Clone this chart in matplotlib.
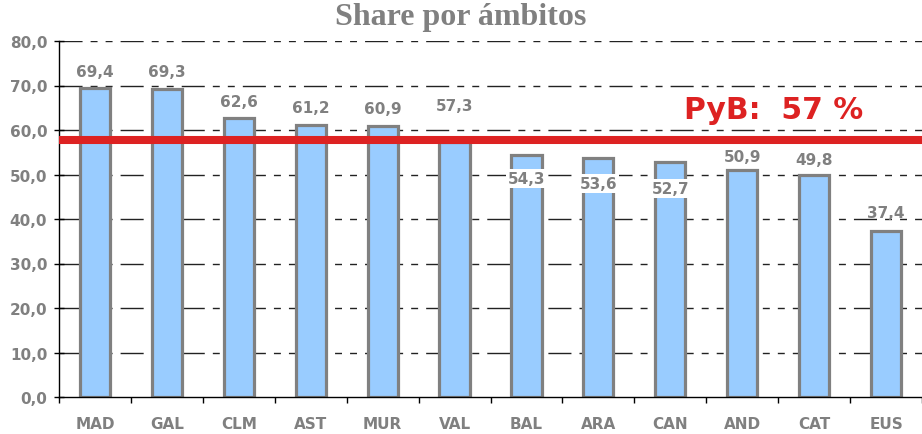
import matplotlib
matplotlib.use("Agg")
import matplotlib.pyplot as plt
import numpy as np

categories = ["MAD", "GAL", "CLM", "AST", "MUR", "VAL", "BAL", "ARA", "CAN", "AND", "CAT", "EUS"]
values = [69.4, 69.3, 62.6, 61.2, 60.9, 57.3, 54.3, 53.6, 52.7, 50.9, 49.8, 37.4]
pyb_value = 57.7
pyb_label = "PyB:  57 %"
title = "Share por ámbitos"
yticks = [0, 10, 20, 30, 40, 50, 60, 70, 80]

# label placement style (pixels relative to bar top)
label_offset_px = [17, 17, 17, 17, 17, 37, -23, -25, -26, 14, 16, 18]
label_boxed = [False, False, False, False, False, False, True, True, True, False, False, False]

GRAY = "#808080"
BLUE = "#99CCFF"
RED = "#DD2222"

fig = plt.figure(figsize=(9.22, 4.35), dpi=100)
ax = fig.add_axes([59/922, 1-398/435, 1-59/922, (398-42)/435])

x = np.arange(len(categories))
ax.bar(x, values, width=0.42, color=BLUE, edgecolor=GRAY, linewidth=2.3, zorder=2)

ax.set_xlim(-0.5, len(categories)-0.5)
ax.set_ylim(0, 80)

ax.set_yticks(yticks)
ax.set_yticklabels([f"{v:.1f}".replace(".", ",") for v in yticks])
ax.set_xticks(x)
ax.set_xticklabels(categories)
ax.set_xticks(np.arange(-0.5, len(categories)), minor=True)

ax.tick_params(axis="y", direction="inout", length=7, width=1, pad=5,
               labelsize=11, labelcolor=GRAY)
ax.tick_params(axis="x", which="major", length=0, pad=14, labelsize=11, labelcolor=GRAY)
ax.tick_params(axis="x", which="minor", direction="out", length=4, width=1)
for lbl in ax.get_yticklabels() + ax.get_xticklabels():
    lbl.set_fontweight("bold")

for s in ["top", "right"]:
    ax.spines[s].set_visible(False)
ax.spines["left"].set_color("black")
ax.spines["bottom"].set_color("black")
ax.spines["left"].set_linewidth(1)
ax.spines["bottom"].set_linewidth(1)

# dashed gridlines (long, short, short)
dash = [16.6, 5.8, 5.0, 5.8, 5.0, 5.8]
for yv in yticks[1:]:
    ax.axhline(yv, color="#222222", linewidth=1, dashes=dash, zorder=1)

# PyB reference line
ax.axhline(pyb_value, xmin=0.003, xmax=1, color=RED, linewidth=5.8, zorder=4)
ax.text(9.44, pyb_value + 3.7, pyb_label, color=RED, fontsize=21.5, fontweight="bold",
        ha="center", va="bottom")

# value labels
px2pt = 72 / 100
for xi, v, off, boxed in zip(x, values, label_offset_px, label_boxed):
    kw = {}
    if boxed:
        kw["bbox"] = dict(facecolor="white", edgecolor="none", pad=1.2)
    ax.annotate(f"{v:.1f}".replace(".", ","), (xi, v), xytext=(0, off * px2pt),
                textcoords="offset points", ha="center", va="center",
                fontsize=11, fontweight="bold", color=GRAY, zorder=5, **kw)

fig.text(461/922, 1 - 25/435, title, ha="center", va="baseline",
         fontsize=23, fontweight="bold", color=GRAY, family="Liberation Serif")

fig.savefig("out.png", dpi=100)
